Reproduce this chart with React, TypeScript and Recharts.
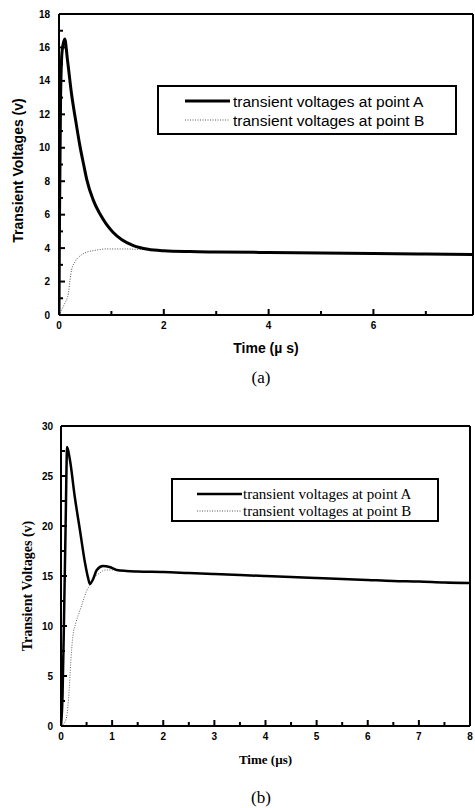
import { Legend, Line, LineChart, XAxis, YAxis } from "recharts";

// (a) transient voltages, time in µs
const timeA1 = [0, 0.01, 0.03, 0.06, 0.11, 0.16, 0.24, 0.32, 0.4, 0.47, 0.53, 0.65, 0.78, 0.9, 1.03, 1.2, 1.42, 1.7, 2.0, 2.5, 3.0, 4.0, 5.0, 6.0, 7.0, 7.9];
const voltA1 = [0, 6, 13, 15.8, 16.5, 15.3, 13.2, 11.6, 10.1, 9.0, 8.1, 6.9, 6.05, 5.45, 4.95, 4.5, 4.15, 3.93, 3.84, 3.79, 3.77, 3.74, 3.71, 3.68, 3.65, 3.62];
const timeB1 = [0, 0.05, 0.11, 0.18, 0.21, 0.24, 0.31, 0.43, 0.55, 0.66, 0.9, 1.23, 1.55, 1.7, 2.0, 2.5, 3.0, 4.0, 5.0, 6.0, 7.0, 7.9];
const voltB1 = [0, 0.3, 0.7, 1.3, 2.1, 2.7, 3.2, 3.6, 3.78, 3.85, 3.95, 3.95, 3.92, 3.9, 3.83, 3.79, 3.77, 3.74, 3.71, 3.68, 3.65, 3.62];

// (b)
const timeA2 = [0, 0.03, 0.06, 0.09, 0.12, 0.175, 0.27, 0.37, 0.47, 0.53, 0.565, 0.62, 0.7, 0.82, 0.95, 1.09, 1.28, 1.5, 2.0, 2.5, 3.0, 3.5, 4.0, 4.5, 5.0, 5.5, 6.0, 6.5, 7.0, 7.5, 8.0];
const voltA2 = [0, 3, 11, 20, 27.9, 26.6, 22.9, 19.6, 16.3, 14.8, 14.2, 14.6, 15.6, 16.0, 15.9, 15.6, 15.5, 15.45, 15.4, 15.3, 15.2, 15.1, 15.0, 14.9, 14.8, 14.7, 14.6, 14.5, 14.45, 14.35, 14.3];
const timeB2 = [0, 0.05, 0.11, 0.16, 0.19, 0.23, 0.29, 0.36, 0.42, 0.5, 0.58, 0.66, 0.76, 0.86, 1.0, 1.1, 1.28, 1.5, 2.0, 2.5, 3.0, 3.5, 4.0, 4.5, 5.0, 5.5, 6.0, 6.5, 7.0, 7.5, 8.0];
const voltB2 = [0, 0.2, 0.9, 3.6, 6.3, 8.9, 10.3, 11.4, 12.3, 13.5, 14.2, 14.9, 15.3, 15.6, 15.6, 15.55, 15.5, 15.45, 15.4, 15.3, 15.2, 15.1, 15.0, 14.9, 14.8, 14.7, 14.6, 14.5, 14.45, 14.35, 14.3];

const seriesNames = ["transient voltages at point A", "transient voltages at point B"];

const xTicks1 = [0, 1, 2, 3, 4, 5, 6, 7];
const xLabels1 = [0, 2, 4, 6];
const yTicks1 = [0, 1, 2, 3, 4, 5, 6, 7, 8, 9, 10, 11, 12, 13, 14, 15, 16, 17, 18];
const yLabels1 = [0, 2, 4, 6, 8, 10, 12, 14, 16, 18];

const xTicks2 = [0, 0.5, 1, 1.5, 2, 2.5, 3, 3.5, 4, 4.5, 5, 5.5, 6, 6.5, 7, 7.5, 8];
const xLabels2 = [0, 1, 2, 3, 4, 5, 6, 7, 8];
const yTicks2 = [0, 2.5, 5, 7.5, 10, 12.5, 15, 17.5, 20, 22.5, 25, 27.5, 30];
const yLabels2 = [0, 5, 10, 15, 20, 25, 30];

const toPoints = (t: number[], v: number[]) => t.map((x, i) => ({ t: x, v: v[i] }));

const SANS = "'Liberation Sans', Arial, sans-serif";
const SERIF = "'Liberation Serif', 'Times New Roman', serif";

const axisLine = { stroke: "#000", strokeWidth: 2 };

type Side = "left" | "right" | "top" | "bottom";

// inward tick marks (long on labelled values, short otherwise);
// the axis sits `gap` px from the label anchor recharts hands over
function makeTick(side: Side, labels: number[], gap: number) {
  return function Tick(props: any) {
    const { x, y, payload } = props;
    const value = payload.value as number;
    const major = labels.includes(value);
    const len = major ? 6 : 4;
    let x1 = x, y1 = y, x2 = x, y2 = y;
    if (side === "bottom") { y1 = y - gap; y2 = y1 - len; }
    if (side === "top") { y1 = y + gap; y2 = y1 + len; }
    if (side === "left") { x1 = x + gap; x2 = x1 + len; }
    if (side === "right") { x1 = x - gap; x2 = x1 - len; }
    const showText = major && (side === "bottom" || side === "left");
    return (
      <g>
        <line x1={x1} y1={y1} x2={x2} y2={y2} stroke="#000" strokeWidth={2} />
        {showText && (
          <text
            x={x}
            y={y}
            dy={side === "left" ? "0.36em" : "0.71em"}
            textAnchor={side === "left" ? "end" : "middle"}
            fontFamily={SANS}
            fontSize={10}
            fontWeight="bold"
            fill="#000"
          >
            {value}
          </text>
        )}
      </g>
    );
  };
}

type LegendLook = {
  width: number;
  height: number;
  rows: number[];
  lineFrom: number;
  lineTo: number;
  textX: number;
  font: string;
  fontSize: number;
  widths: number[];
};

function makeLegend(look: LegendLook) {
  return function LegendBox(props: any) {
    const payload = props.payload || [];
    return (
      <svg width={look.width} height={look.height} style={{ display: "block" }}>
        <rect x={1} y={1} width={look.width - 2} height={look.height - 2} fill="#fff" stroke="#000" strokeWidth={2} />
        {payload.map((entry: any, i: number) => (
          <g key={entry.value}>
            <line
              x1={look.lineFrom}
              x2={look.lineTo}
              y1={look.rows[i]}
              y2={look.rows[i]}
              stroke={i === 0 ? "#000" : "#555"}
              strokeWidth={look.widths[i]}
              strokeDasharray={i === 0 ? undefined : "1 1.5"}
            />
            <text x={look.textX} y={look.rows[i]} dy="0.36em" fontFamily={look.font} fontSize={look.fontSize} fill="#000">
              {entry.value}
            </text>
          </g>
        ))}
      </svg>
    );
  };
}

function Caption({ text, top }: { text: string; top: number }) {
  return (
    <div
      style={{
        position: "absolute",
        left: 0,
        width: 522,
        top,
        textAlign: "center",
        fontFamily: SERIF,
        fontSize: 17,
        lineHeight: "17px",
        color: "#000",
      }}
    >
      {text}
    </div>
  );
}

export default function App() {
  return (
    <div style={{ position: "fixed", left: 0, top: 0, width: 475, height: 808, background: "#fff", overflow: "hidden" }}>
      <div style={{ position: "absolute", left: 0, top: 0 }}>
        <LineChart width={475} height={390} margin={{ top: 13, right: 1, bottom: 0, left: 0 }}>
          <XAxis
            type="number"
            dataKey="t"
            domain={[0, 7.9]}
            allowDataOverflow
            ticks={xTicks1}
            interval={0}
            height={75}
            tickSize={0}
            tickMargin={7}
            tickLine={false}
            axisLine={axisLine}
            tick={makeTick("bottom", xLabels1, 7)}
            label={{ value: "Time (\u00b5 s)", position: "insideTop", offset: 28, fontFamily: SANS, fontSize: 14, fontWeight: "bold", fill: "#000" }}
          />
          <XAxis
            xAxisId="top"
            orientation="top"
            type="number"
            domain={[0, 7.9]}
            allowDataOverflow
            ticks={xTicks1}
            interval={0}
            height={1}
            tickSize={0}
            tickMargin={0}
            tickLine={false}
            axisLine={axisLine}
            tick={makeTick("top", xLabels1, 0)}
          />
          <YAxis
            type="number"
            domain={[0, 18]}
            ticks={yTicks1}
            interval={0}
            width={59}
            tickSize={0}
            tickMargin={9}
            tickLine={false}
            axisLine={axisLine}
            tick={makeTick("left", yLabels1, 9)}
            label={{
              value: "Transient Voltages (v)",
              angle: -90,
              position: "insideLeft",
              offset: 18,
              dy: 6,
              fontFamily: SANS,
              fontSize: 14,
              fontWeight: "bold",
              fill: "#000",
              style: { textAnchor: "middle" },
            }}
          />
          <YAxis
            yAxisId="right"
            orientation="right"
            type="number"
            domain={[0, 18]}
            ticks={yTicks1}
            interval={0}
            width={1}
            tickSize={0}
            tickMargin={0}
            tickLine={false}
            axisLine={axisLine}
            tick={makeTick("right", yLabels1, 0)}
          />
          <Legend
            layout="vertical"
            align="center"
            verticalAlign="middle"
            wrapperStyle={{ left: 157, top: 85, width: 300, height: 50, margin: 0 }}
            content={makeLegend({
              width: 300,
              height: 50,
              rows: [16, 35],
              lineFrom: 28,
              lineTo: 73,
              textX: 76,
              font: SANS,
              fontSize: 15.5,
              widths: [3, 1],
            })}
          />
          <Line
            data={toPoints(timeB1, voltB1)}
            dataKey="v"
            name={seriesNames[1]}
            type="monotone"
            stroke="#555"
            strokeWidth={1}
            strokeDasharray="1 1.5"
            dot={false}
            isAnimationActive={false}
          />
          <Line
            data={toPoints(timeA1, voltA1)}
            dataKey="v"
            name={seriesNames[0]}
            type="monotone"
            stroke="#000"
            strokeWidth={3}
            dot={false}
            isAnimationActive={false}
          />
        </LineChart>
      </div>
      <Caption text="(a)" top={369} />

      <div style={{ position: "absolute", left: 0, top: 400 }}>
        <LineChart width={475} height={408} margin={{ top: 25, right: 4, bottom: 0, left: 0 }}>
          <XAxis
            type="number"
            dataKey="t"
            domain={[0, 8]}
            allowDataOverflow
            ticks={xTicks2}
            interval={0}
            height={82}
            tickSize={0}
            tickMargin={7}
            tickLine={false}
            axisLine={axisLine}
            tick={makeTick("bottom", xLabels2, 7)}
            label={{ value: "Time (\u00b5s)", position: "insideTop", offset: 29, fontFamily: SERIF, fontSize: 13, fontWeight: "bold", fill: "#000" }}
          />
          <XAxis
            xAxisId="top"
            orientation="top"
            type="number"
            domain={[0, 8]}
            allowDataOverflow
            ticks={xTicks2}
            interval={0}
            height={1}
            tickSize={0}
            tickMargin={0}
            tickLine={false}
            axisLine={axisLine}
            tick={makeTick("top", xLabels2, 0)}
          />
          <YAxis
            type="number"
            domain={[0, 30]}
            ticks={yTicks2}
            interval={0}
            width={61}
            tickSize={0}
            tickMargin={8}
            tickLine={false}
            axisLine={axisLine}
            tick={makeTick("left", yLabels2, 8)}
            label={{
              value: "Transient Voltages (v)",
              angle: -90,
              position: "insideLeft",
              offset: 27,
              dy: 10,
              fontFamily: SERIF,
              fontSize: 14,
              fontWeight: "bold",
              fill: "#000",
              style: { textAnchor: "middle" },
            }}
          />
          <YAxis
            yAxisId="right"
            orientation="right"
            type="number"
            domain={[0, 30]}
            ticks={yTicks2}
            interval={0}
            width={1}
            tickSize={0}
            tickMargin={0}
            tickLine={false}
            axisLine={axisLine}
            tick={makeTick("right", yLabels2, 0)}
          />
          <Legend
            layout="vertical"
            align="center"
            verticalAlign="middle"
            wrapperStyle={{ left: 171, top: 78, width: 268, height: 44, margin: 0 }}
            content={makeLegend({
              width: 268,
              height: 44,
              rows: [16, 33],
              lineFrom: 26,
              lineTo: 71,
              textX: 72,
              font: SERIF,
              fontSize: 15,
              widths: [2.5, 1],
            })}
          />
          <Line
            data={toPoints(timeB2, voltB2)}
            dataKey="v"
            name={seriesNames[1]}
            type="monotone"
            stroke="#666"
            strokeWidth={1}
            strokeDasharray="1 1.5"
            dot={false}
            isAnimationActive={false}
          />
          <Line
            data={toPoints(timeA2, voltA2)}
            dataKey="v"
            name={seriesNames[0]}
            type="monotone"
            stroke="#000"
            strokeWidth={2.5}
            dot={false}
            isAnimationActive={false}
          />
        </LineChart>
      </div>
      <Caption text="(b)" top={789} />
    </div>
  );
}
